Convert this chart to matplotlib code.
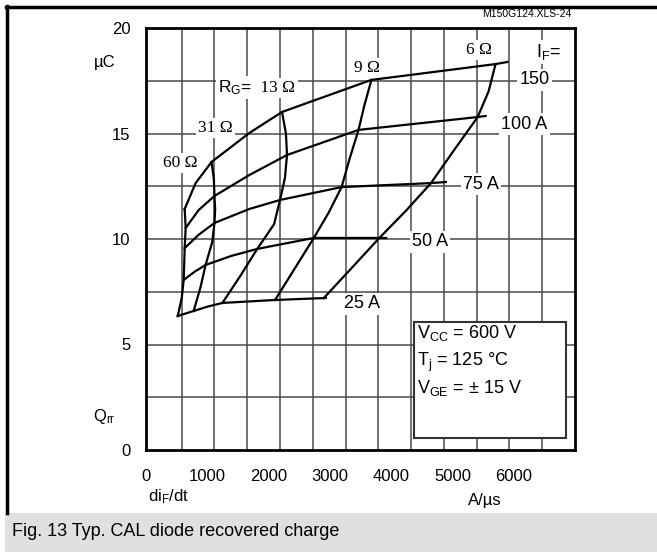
import numpy as np
import matplotlib
matplotlib.use('Agg')
import matplotlib.pyplot as plt
from matplotlib.patches import Rectangle
from matplotlib.lines import Line2D

# gate resistances (columns) and forward currents (rows)
rg_labels = ['60 Ω', '31 Ω', '13 Ω', '9 Ω', '6 Ω']
if_labels = ['150', '100 A', '75 A', '50 A', '25 A']

# diF/dt in A/us at each (IF, RG) point
didt = [
    [545, 955, 2030, 3394, 5288],
    [560, 1000, 2106, 3197, 5015],
    [545, 1000, 2000, 2939, 4303],
    [530, 864, 1652, 2515, 3515],
    [439, 682, 1121, 1924, 2667],
]
# Qrr in uC at the same points
qrr = [
    [11.42, 13.65, 16.02, 17.54, 18.29],
    [10.52, 12.04, 13.98, 15.17, 15.78],
    [9.57, 10.76, 11.85, 12.46, 12.65],
    [8.06, 8.77, 9.53, 10.05, 10.05],
    [6.35, 6.59, 6.97, 7.11, 7.20],
]
rg_mid_x = [
    [553, 553, 538, 500],
    [990, 1010, 965, 788],
    [2090, 2075, 1909, 1394],
    [3288, 3061, 2742, 2220],
    [5182, 4652, 3924, 3091],
]
rg_mid_y = [
    [10.97, 10.05, 8.80, 7.20],
    [12.85, 11.40, 9.85, 7.73],
    [15.00, 12.90, 10.70, 8.25],
    [16.35, 13.80, 11.25, 8.58],
    [17.00, 14.20, 11.35, 8.62],
]
# extra points on each IF curve between the 60 and 13 ohm curves
if_mid_x = [[712, 1530], [758, 1530], [758, 1530], [697, 1258], [560, 900]]
if_mid_y = [[12.65, 15.02], [11.37, 13.03], [10.20, 11.42], [8.45, 9.20], [6.47, 6.80]]
# where each IF curve runs out past the 6 ohm point
if_end_x = [5470, 5136, 4530, 3620, 2700]
if_end_y = [18.39, 15.83, 12.70, 10.05, 7.21]

x_tick_labels = ['0', '1000', '2000', '3000', '4000', '5000', '6000']

plt.rcParams['font.family'] = ['Liberation Sans', 'DejaVu Sans']
plt.rcParams['mathtext.fontset'] = 'custom'
plt.rcParams['mathtext.rm'] = 'Liberation Sans'
plt.rcParams['mathtext.it'] = 'Liberation Sans'

W, H = 657, 552
fig = plt.figure(figsize=(W / 100, H / 100), dpi=100)
ax = fig.add_axes([146 / W, 1 - 450 / H, (575 - 146) / W, (450 - 28) / H])

# grid drawn by hand so every 500 / 2.5 step shows
for gx in np.arange(500, 6500, 500):
    ax.axvline(gx, color='#4a4a4a', lw=1.1, zorder=1)
for gy in np.arange(2.5, 20, 2.5):
    ax.axhline(gy, color='#4a4a4a', lw=1.1, zorder=1)

# IF curves
for i in range(len(if_labels)):
    xs = [didt[i][0], if_mid_x[i][0], didt[i][1], if_mid_x[i][1]] + didt[i][2:] + [if_end_x[i]]
    ys = [qrr[i][0], if_mid_y[i][0], qrr[i][1], if_mid_y[i][1]] + qrr[i][2:] + [if_end_y[i]]
    ax.plot(xs, ys, color='black', lw=1.6, zorder=4, solid_joinstyle='round')

# RG curves
for j in range(len(rg_labels)):
    xs, ys = [], []
    for i in range(len(if_labels)):
        xs.append(didt[i][j])
        ys.append(qrr[i][j])
        if i < len(if_labels) - 1:
            xs.append(rg_mid_x[j][i])
            ys.append(rg_mid_y[j][i])
    ax.plot(xs, ys, color='black', lw=1.6, zorder=4, solid_joinstyle='round')

ax.set_xlim(0, 6500)
ax.set_ylim(0, 20)
ax.set_xticks(np.arange(7) * 936 - 45, x_tick_labels)
ax.set_yticks([0, 5, 10, 15, 20])
ax.tick_params(which='both', length=0)
ax.tick_params(axis='x', pad=14, labelsize=12)
ax.tick_params(axis='y', pad=11, labelsize=12)
for s in ax.spines.values():
    s.set_linewidth(2)
    s.set_zorder(6)

box = dict(facecolor='white', edgecolor='none', pad=1.5)
serif = ['Liberation Serif', 'DejaVu Serif']
ax.text(470, 13.6, '60 Ω', family=serif, fontsize=12.5, ha='center', va='center', bbox=box)
ax.text(1015, 15.26, '31 Ω', family=serif, fontsize=12.5, ha='center', va='center', bbox=box)
ax.text(1576, 17.16, 'R$_\\mathrm{G}$=', fontsize=12.5, ha='right', va='center', bbox=box)
ax.text(1640, 17.16, ' 13 Ω', family=serif, fontsize=12.5, ha='left', va='center', bbox=box)
ax.text(3333, 18.1, '9 Ω', family=serif, fontsize=12.5, ha='center', va='center', bbox=box)
ax.text(5030, 18.96, '6 Ω', family=serif, fontsize=12.5, ha='center', va='center', bbox=box)
ax.text(6090, 18.86, 'I$_\\mathrm{F}$=', fontsize=13, ha='center', va='center', bbox=box)

if_pos = [(5879, 17.54), (5727, 15.45), (5060, 12.6), (4288, 9.86), (3258, 6.92)]
for lab, (x, y) in zip(if_labels, if_pos):
    ax.text(x, y, lab, fontsize=13, ha='center', va='center', bbox=box)

ax.add_patch(Rectangle((4045, 0.57), 2319, 5.5, facecolor='white',
                       edgecolor='#333333', lw=1.5, zorder=3))
ax.text(4090, 5.55, 'V$_\\mathrm{CC}$ = 600 V', fontsize=13, va='center', zorder=5)
ax.text(4090, 4.17, 'T$_\\mathrm{j}$ = 125 °C', fontsize=13, va='center', zorder=5)
ax.text(4090, 2.94, 'V$_\\mathrm{GE}$ = ± 15 V', fontsize=13, va='center', zorder=5)

# axis captions
fig.text(105 / W, 1 - 63 / H, 'µC', fontsize=12, ha='center', va='center')
fig.text(104 / W, 1 - 416 / H, 'Q$_\\mathrm{rr}$', fontsize=12, ha='center', va='center')
fig.text(148 / W, 1 - 497 / H, 'di$_\\mathrm{F}$/dt', fontsize=12, ha='left', va='center')
fig.text(485 / W, 1 - 501 / H, 'A/µs', fontsize=12, ha='center', va='center')
fig.text(571 / W, 1 - 14 / H, 'M150G124.XLS-24', fontsize=7.5, ha='right', va='center')

# frame and caption band
fig.add_artist(Rectangle((5 / W, 0), 1, 39 / H, transform=fig.transFigure,
                         facecolor='#e0e0e0', edgecolor='none'))
fig.add_artist(Line2D([6.5 / W, 6.5 / W], [39 / H, 1 - 6 / H], color='black', lw=2.5))
fig.add_artist(Line2D([5.5 / W, 1], [1 - 6.5 / H, 1 - 6.5 / H], color='black', lw=2.5))
fig.text(12 / W, 20 / H, 'Fig. 13 Typ. CAL diode recovered charge', fontsize=13,
         ha='left', va='center')

fig.savefig('out.png', dpi=100)
